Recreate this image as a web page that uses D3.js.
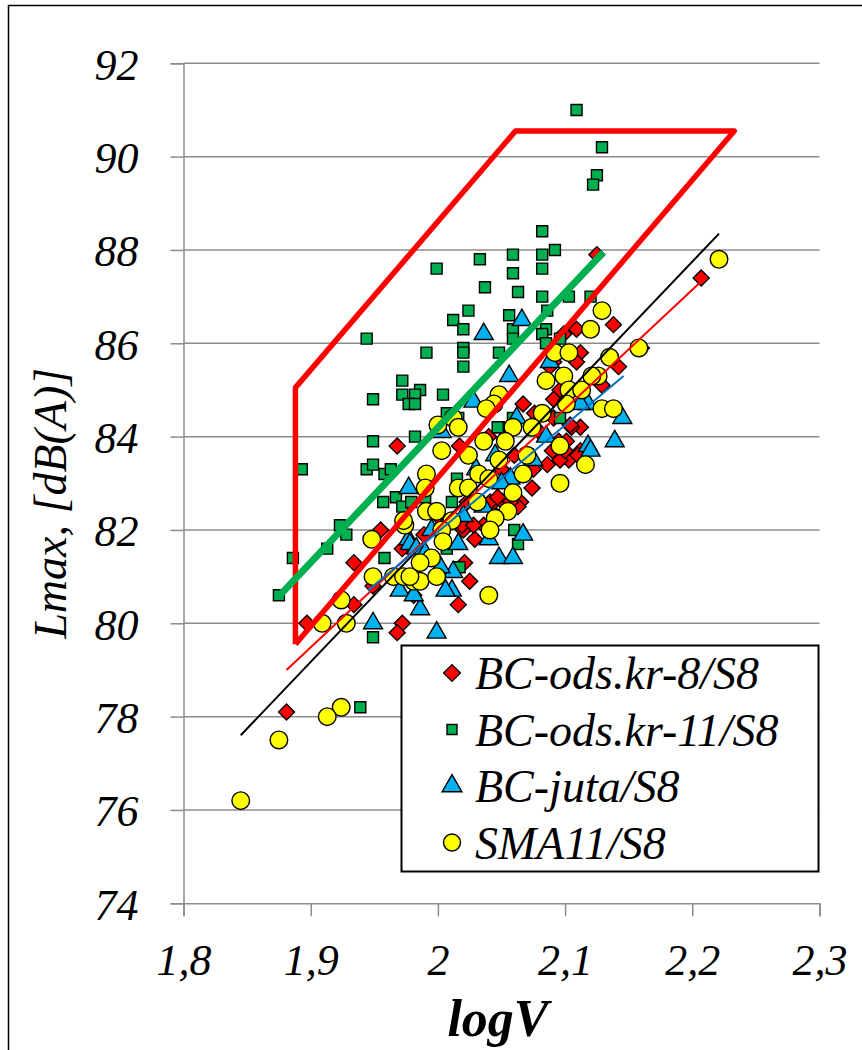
<!DOCTYPE html>
<html>
<head>
<meta charset="utf-8">
<script src="https://cdn.jsdelivr.net/npm/d3@7"></script>
<style>
  body { margin: 0; background: #fff; }
</style>
</head>
<body>
<svg id="chart"></svg>
<script>
// series: [logV, Lmax]
const odsKr8 = [
  [2.125, 87.9], [2.207, 87.4], [2.138, 86.4], [2.109, 86.3], [2.099, 86.2], [2.112, 85.8],
  [2.160, 85.9], [2.142, 85.5], [2.129, 85.1], [2.112, 84.2], [2.112, 83.7], [2.109, 85.6],
  [2.091, 85.6], [2.088, 85.5], [2.096, 85.0], [2.091, 84.8], [2.067, 84.7], [2.076, 84.5],
  [2.091, 84.4], [2.105, 84.2], [1.968, 83.8], [2.095, 83.9], [2.101, 83.9], [2.103, 83.5],
  [2.086, 83.4], [2.096, 83.5], [2.110, 83.6], [2.074, 82.9], [2.065, 82.6], [2.044, 82.6],
  [2.051, 82.6], [2.023, 82.6], [2.063, 82.5], [2.017, 83.8], [1.955, 82.0], [2.020, 82.0],
  [2.036, 82.1], [1.989, 81.9], [1.934, 81.3], [1.934, 80.4], [1.897, 80.0], [1.972, 81.6],
  [1.981, 80.6], [1.972, 80.0], [1.968, 79.8], [1.949, 80.8], [2.025, 80.9], [2.016, 80.4],
  [2.029, 81.8], [2.021, 81.3], [1.881, 78.1], [2.104, 84.25], [2.041, 82.6], [2.047, 82.7],
  [2.057, 82.6], [2.046, 82.3], [2.019, 82.1], [2.028, 82.1], [2.075, 83.3], [2.090, 83.7],
  [2.100, 83.7], [2.050, 83.3], [2.060, 83.6], [2.040, 84.0], [2.080, 84.1], [2.000, 82.3]
];
const odsKr11 = [
  [2.109, 91.0], [2.129, 90.2], [2.125, 89.6], [2.122, 89.4], [2.082, 88.4], [2.059, 87.9],
  [2.082, 87.9], [2.092, 88.0], [2.033, 87.8], [2.059, 87.5], [2.082, 87.6], [2.037, 87.2],
  [2.063, 87.1], [2.082, 87.0], [2.103, 87.0], [2.120, 87.0], [2.056, 86.6], [2.086, 86.7],
  [1.999, 87.6], [2.024, 86.7], [2.012, 86.5], [2.020, 86.3], [1.944, 86.1], [2.059, 86.3],
  [2.085, 86.3], [2.082, 86.2], [1.991, 85.8], [2.020, 85.9], [2.020, 85.8], [2.020, 85.5],
  [2.048, 85.8], [2.059, 86.1], [2.085, 86.0], [1.972, 85.2], [1.986, 85.0], [1.972, 84.9],
  [1.982, 84.9], [1.977, 84.7], [1.982, 84.7], [1.949, 84.8], [2.004, 84.9], [1.949, 83.9],
  [1.982, 84.0], [2.048, 84.2], [2.059, 84.4], [2.096, 84.4], [2.007, 84.5], [2.016, 84.4],
  [2.016, 84.2], [1.893, 83.3], [1.944, 83.3], [1.949, 83.4], [1.958, 83.2], [1.963, 83.3],
  [1.967, 82.7], [1.923, 82.1], [1.928, 81.9], [1.913, 81.6], [1.886, 81.4], [1.875, 80.6],
  [1.958, 81.4], [2.060, 82.0], [2.063, 81.7], [2.007, 81.6], [2.017, 81.2], [1.939, 78.2],
  [1.949, 79.7], [1.957, 82.6], [1.972, 82.5], [1.979, 82.6], [2.011, 82.6], [2.015, 83.1],
  [2.096, 86.1], [2.047, 84.2], [1.990, 82.7]
];
const juta = [
  [2.036, 86.2], [2.066, 86.5], [2.056, 85.3], [2.028, 84.75], [2.118, 84.7], [2.145, 84.4],
  [2.139, 83.9], [2.118, 83.8], [2.088, 85.6], [2.003, 84.1], [2.120, 83.7], [2.057, 83.1],
  [2.067, 81.9], [2.036, 82.5], [2.062, 84.4], [1.977, 82.9], [2.112, 84.7], [1.977, 81.8],
  [2.016, 81.7], [2.040, 81.8], [2.048, 81.4], [2.059, 81.4], [2.012, 81.1], [2.011, 80.7],
  [2.006, 80.7], [1.986, 80.3], [1.999, 79.8], [1.970, 80.7], [2.002, 81.2], [1.949, 80.0],
  [1.978, 81.7], [1.981, 80.6], [1.983, 81.6], [2.030, 83.3], [2.050, 83.0], [2.020, 82.3],
  [2.045, 83.6], [1.995, 82.0], [2.075, 83.5], [2.085, 84.0], [1.990, 81.5]
];
const sma11 = [
  [2.221, 87.8], [2.129, 86.7], [2.120, 86.3], [2.092, 85.8], [2.103, 85.8], [2.099, 85.3],
  [2.085, 85.2], [2.103, 85.0], [2.113, 85.0], [2.101, 84.7], [2.135, 85.7], [2.126, 85.3],
  [2.129, 84.6], [2.138, 84.6], [2.082, 84.5], [2.074, 84.2], [2.059, 84.2], [2.053, 83.9],
  [2.036, 83.9], [2.096, 83.8], [2.048, 84.9], [2.044, 84.7], [2.038, 84.6], [2.012, 84.4],
  [2.016, 84.2], [2.158, 85.9], [2.121, 85.3], [2.116, 83.4], [2.003, 83.7], [2.024, 83.6],
  [2.048, 83.5], [2.070, 83.6], [2.067, 83.2], [2.096, 83.0], [1.991, 83.2], [2.032, 83.2],
  [2.040, 83.1], [2.016, 82.9], [2.024, 82.9], [1.990, 82.9], [2.059, 82.8], [2.055, 82.4],
  [2.045, 82.25], [2.041, 82.0], [1.991, 82.4], [1.999, 82.4], [1.974, 82.1], [2.011, 82.2],
  [2.031, 82.6], [1.948, 81.8], [1.949, 81.0], [1.965, 81.0], [1.973, 81.0], [1.981, 80.9],
  [1.986, 80.9], [1.924, 80.5], [1.909, 80.0], [1.928, 80.0], [1.973, 82.2], [1.995, 81.4],
  [1.978, 81.0], [1.999, 81.0], [2.003, 82.0], [2.040, 80.6], [2.004, 81.75], [1.986, 81.3],
  [1.924, 78.2], [1.913, 78.0], [1.875, 77.5], [1.845, 76.2], [2.000, 84.25]
];

// region outline and trend lines
const zone = [[1.888, 79.55], [1.888, 85.05], [2.061, 90.55], [2.233, 90.55], [1.888, 79.55]];
const greenLine = [[1.874, 80.55], [2.130, 87.95]];
const blackTrend = [[1.845, 77.6], [2.221, 88.35]];
const redTrend = [[1.881, 79.0], [2.208, 87.35]];
const blueTrend = [[1.945, 80.7], [2.146, 85.3]];

const xTicks = [1.8, 1.9, 2.0, 2.1, 2.2, 2.3];
const xTickLabels = ['1,8', '1,9', '2', '2,1', '2,2', '2,3'];
const yTicks = [74, 76, 78, 80, 82, 84, 86, 88, 90, 92];
const seriesNames = ['BC-ods.kr-8/S8', 'BC-ods.kr-11/S8', 'BC-juta/S8', 'SMA11/S8'];

const serif = "'Liberation Serif', Tinos, 'Noto Serif', 'DejaVu Serif', 'Times New Roman', Times, serif";

const w = 862, h = 1050;
const margin = { left: 183.5, right: 42.5, top: 63.3, bottom: 146.7 };

const xScale = d3.scaleLinear().domain([1.8, 2.3]).range([margin.left, w - margin.right]);
const yScale = d3.scaleLinear().domain([74, 92]).range([h - margin.bottom, margin.top]);

const chart = d3.select('#chart').attr('width', w).attr('height', h)
  .style('font-family', serif).style('font-style', 'italic');

chart.append('rect')
  .attr('x', 8.5).attr('y', 5.5).attr('width', 900).attr('height', 1100)
  .attr('fill', 'none').attr('stroke', '#000').attr('stroke-width', 1.5);

// grid
chart.append('g').selectAll('line')
  .data(yTicks.slice(1))
  .join('line')
  .attr('x1', margin.left).attr('x2', w - margin.right)
  .attr('y1', d => yScale(d)).attr('y2', d => yScale(d))
  .attr('stroke', '#8c8c8c').attr('stroke-width', 1.5);

const yAxis = chart.append('g')
  .attr('transform', `translate(${margin.left},0)`)
  .call(d3.axisLeft(yScale).tickValues(yTicks).tickSize(13).tickPadding(32).tickFormat(d3.format('d')));
const xAxis = chart.append('g')
  .attr('transform', `translate(0,${h - margin.bottom})`)
  .call(d3.axisBottom(xScale).tickValues(xTicks).tickSize(13).tickFormat((d, i) => xTickLabels[i]));

[xAxis, yAxis].forEach(a => {
  a.attr('font-family', null).attr('font-size', null);
  a.select('.domain').attr('stroke', '#8c8c8c').attr('stroke-width', 1.5);
  a.selectAll('.tick line').attr('stroke', '#8c8c8c').attr('stroke-width', 1.5);
  a.selectAll('.tick text')
    .style('font-family', serif)
    .style('font-style', 'italic').style('font-size', '44px').attr('fill', '#000');
});
yAxis.selectAll('.tick text').attr('dy', '0.36em');
xAxis.selectAll('.tick text').attr('dy', null).attr('y', 72);

chart.append('text')
  .attr('transform', `translate(66,${(yScale(74) + yScale(92)) / 2 + 20}) rotate(-90)`)
  .attr('text-anchor', 'middle').style('font-size', '46px')
  .text('Lmax, [dB(A)]');

chart.append('text')
  .attr('x', 498).attr('y', 1036)
  .attr('text-anchor', 'middle').style('font-size', '52px').style('font-weight', 'bold')
  .text('logV');

// markers
const shapes = [
  { data: odsKr8, fill: '#ff0000', sym: d3.symbol().type(d3.symbolSquare).size(128), rot: 45 },
  { data: odsKr11, fill: '#00b050', sym: d3.symbol().type(d3.symbolSquare).size(121), rot: 0 },
  { data: juta, fill: '#00b0f0', sym: d3.symbol().type(d3.symbolTriangle).size(155), rot: 0 },
  { data: sma11, fill: '#ffff00', sym: d3.symbol().type(d3.symbolCircle).size(Math.PI * 8.8 * 8.8), rot: 0 }
];

shapes.forEach(s => {
  chart.append('g').selectAll('path')
    .data(s.data)
    .join('path')
    .attr('d', s.sym())
    .attr('transform', d => `translate(${xScale(d[0])},${yScale(d[1])}) rotate(${s.rot})`)
    .attr('fill', s.fill).attr('stroke', '#000').attr('stroke-width', 1.4);
});

const line = d3.line().x(d => xScale(d[0])).y(d => yScale(d[1]));

const drawPath = (dataset, color, width) => {
  chart.append('path')
    .datum(dataset)
    .attr('d', line)
    .attr('fill', 'none')
    .attr('stroke', color)
    .attr('stroke-width', width)
    .attr('stroke-linejoin', 'round');
};
drawPath(zone, '#ff0000', 5.5);
drawPath(greenLine, '#00b050', 7);
drawPath(blackTrend, '#000', 2);
drawPath(redTrend, '#ff0000', 2);
drawPath(blueTrend, '#0070c0', 2);

// legend
const legend = chart.append('g');
legend.append('rect')
  .attr('x', 401.5).attr('y', 645.5).attr('width', 417).attr('height', 226)
  .attr('fill', '#fff').attr('stroke', '#000').attr('stroke-width', 2);

const legendSyms = [
  d3.symbol().type(d3.symbolSquare).size(140),
  d3.symbol().type(d3.symbolSquare).size(100),
  d3.symbol().type(d3.symbolTriangle).size(170),
  d3.symbol().type(d3.symbolCircle).size(Math.PI * 8.5 * 8.5)
];
seriesNames.forEach((name, i) => {
  const base = 689 + i * 56.5;
  legend.append('path')
    .attr('d', legendSyms[i]())
    .attr('transform', `translate(452,${base - 16}) rotate(${shapes[i].rot})`)
    .attr('fill', shapes[i].fill).attr('stroke', '#000').attr('stroke-width', 1.4);
  legend.append('text')
    .attr('x', 475).attr('y', base)
    .style('font-size', '46px')
    .text(name);
});
</script>
</body>
</html>
